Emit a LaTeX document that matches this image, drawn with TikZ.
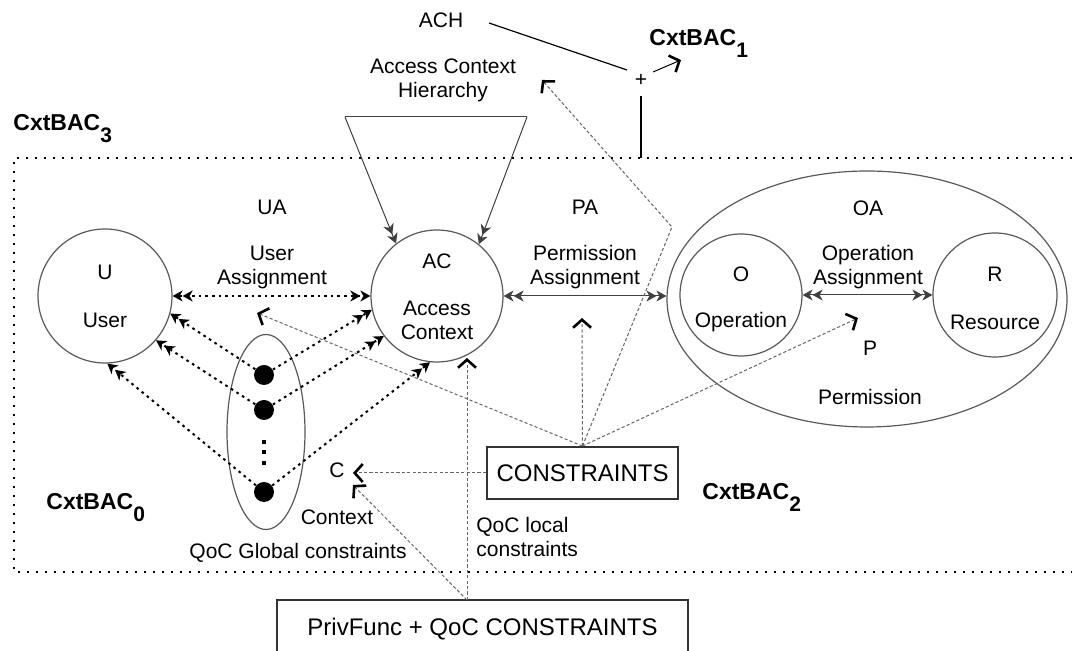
\documentclass[tikz,border=0pt]{standalone}
\usepackage{fontspec}
\setmainfont{Liberation Sans}
\usetikzlibrary{arrows.meta,shapes.geometric}
\newcommand{\cxtlabel}[1]{\fontsize{11.5}{13}\selectfont\bfseries CxtBAC\raisebox{-6pt}{\fontsize{10.5}{12}\selectfont\bfseries #1}}
\begin{document}
\begin{tikzpicture}[x=0.5pt,y=-0.5pt,
  lbl/.style={font=\fontsize{10.5}{12}\selectfont, inner sep=0pt, align=center},
  circ/.style={circle, draw=black!65, line width=0.6pt, inner sep=0pt},
  dbl/.style={-{Stealth[length=5pt,width=5.5pt,inset=1.5pt]Stealth[length=5pt,width=5.5pt,inset=1.5pt]}},
  dblboth/.style={{Stealth[length=5pt,width=5.5pt,inset=1.5pt]Stealth[length=5pt,width=5.5pt,inset=1.5pt]}-{Stealth[length=5pt,width=5.5pt,inset=1.5pt]Stealth[length=5pt,width=5.5pt,inset=1.5pt]}},
  dotline/.style={line width=1pt, dash pattern=on 1.3pt off 2pt},
  solidln/.style={draw=black!75, line width=0.5pt},
  gdash/.style={draw=black!60, line width=0.5pt, dash pattern=on 1.6pt off 1.1pt},
  openhead/.style={-{Straight Barb[length=4pt,width=9pt,line width=1.3pt,color=black]}},
  boxframe/.style={line width=1pt, dash pattern=on 0.9pt off 3.6pt},
  cbox/.style={draw=black!80, line width=1pt, font=\fontsize{12}{14}\selectfont, inner sep=0pt},
  blackdot/.style={circle, fill=black, minimum size=10pt, inner sep=0pt},
  sq/.style={fill=black, minimum size=2.2pt, inner sep=0pt},
]
\useasboundingbox (0,0) rectangle (1072,651);

% outer dotted frame
\draw[boxframe] (1072,158) -- (14,158) -- (14,572) -- (1072,572);

% top part
\node[lbl] (ach) at (441,20) {ACH};
\coordinate (achL) at (489,23);
\coordinate (achR) at (627,70);
\draw[line width=0.6pt] (achL) -- (achR);
\node[lbl] (plus) at (641,80) {+};
\coordinate (c1s) at (653,72);
\coordinate (c1e) at (681,60);
\draw[line width=0.5pt, -{Straight Barb[length=4pt,width=9pt,line width=1.3pt]}] (c1s) -- (c1e);
\node[anchor=base west, inner sep=0pt] (cxt1) at (649,46) {\cxtlabel{1}};
\coordinate (vtop) at (641,96);
\coordinate (vbot) at (641,158);
\draw[line width=0.6pt] (vtop) -- (vbot);
\node[lbl] (achlbl) at (443,80) {Access Context\\Hierarchy};
\node[anchor=base west, inner sep=0pt] (cxt3) at (13,131) {\cxtlabel{3}};

% main circles
\node[circ, minimum size=67pt] (U) at (105,296) {};
\node[lbl] (utxt) at (105,272) {U};
\node[lbl] (usertxt) at (105,320) {User};
\node[circ, minimum size=66pt] (AC) at (437,296) {};
\node[lbl] (actxt) at (437,261) {AC};
\node[lbl] (acctxt) at (437,320) {Access\\Context};

\node[ellipse, draw=black!65, line width=0.6pt, inner sep=0pt, minimum width=200pt, minimum height=128pt] (oaell) at (867,299) {};
\node[circ, minimum size=61pt] (O) at (741,295) {};
\node[lbl] (otxt) at (741,274) {O};
\node[lbl] (optxt) at (741,322) {Operation};
\node[circ, minimum size=62pt] (R) at (995,295) {};
\node[lbl] (rtxt) at (995,274) {R};
\node[lbl] (restxt) at (995,322) {Resource};

% labels
\node[lbl] (ua) at (272,207) {UA};
\node[lbl] (ualbl) at (272,267) {User\\Assignment};
\node[lbl] (pa) at (585,207) {PA};
\node[lbl] (palbl) at (585,267) {Permission\\Assignment};
\node[lbl] (oa) at (868,208) {OA};
\node[lbl] (oalbl) at (868,267) {Operation\\Assignment};
\node[lbl] (plbl) at (870,348) {P};
\node[lbl] (permlbl) at (870,397) {Permission};

% trapezoid (hierarchy)
\coordinate (tl) at (345,117);
\coordinate (tr) at (527,117);
\draw[solidln] (tl) -- (tr);
\draw[solidln, dbl] (tl) -- (AC.128);
\draw[solidln, dbl] (tr) -- (AC.51);

% solid assignment arrows
\draw[solidln, dblboth] (AC.east) -- (AC.east -| oaell.west);
\draw[solidln, dblboth] (O.east) -- (R.west);

% QoC global ellipse and dots
\node[ellipse, draw=black!65, line width=0.6pt, inner sep=0pt, minimum width=39pt, minimum height=97.5pt] (qell) at (266,432) {};
\node[blackdot] (d1) at (264,375) {};
\node[blackdot] (d2) at (264,410) {};
\node[blackdot] (d3) at (264,492) {};
\node[sq] (v1) at (264,442) {};
\node[sq] (v2) at (264,452) {};
\node[sq] (v3) at (264,463) {};

% dotted arrows
\draw[dotline, dblboth] (U.east) -- (AC.west);
\draw[dotline, dbl] (d1) -- (U.-15);
\draw[dotline, dbl] (d1) -- (AC.192);
\draw[dotline, dbl] (d2) -- (U.-41);
\draw[dotline, dbl] (d2) -- (AC.217);
\draw[dotline, dbl] (d3) -- (U.-88);
\draw[dotline, dbl] (d3) -- (AC.264);

% lower labels
\node[lbl] (clbl) at (337,470) {C};
\node[lbl] (ctxlbl) at (337,517) {Context};
\node[lbl] (qocg) at (298,553) {QoC Global constraints};
\node[lbl, align=left, anchor=west] (qocl) at (476,537) {QoC local\\constraints};
\node[anchor=base west, inner sep=0pt] (cxt0) at (46,510) {\cxtlabel{0}};
\node[anchor=base west, inner sep=0pt] (cxt2) at (702,500) {\cxtlabel{2}};

% constraint boxes
\node[cbox, minimum width=95.5pt, minimum height=26pt] (cons) at (582.5,473) {CONSTRAINTS};
\node[cbox, line width=0.8pt, minimum width=205.5pt, minimum height=30pt] (priv) at (482.5,630) {\raisebox{3pt}{PrivFunc + QoC CONSTRAINTS}};

% dashed constraint links
\coordinate (uatip) at (257,313);
\coordinate (patip) at (582,318);
\coordinate (bend) at (672,227);
\coordinate (achtip) at (542,80);
\coordinate (ptip) at (858,318);
\coordinate (ctip1) at (353,473);
\coordinate (ctip2) at (353,485);
\coordinate (actip) at (467,358);
\coordinate (privtop) at (467,600);
\draw[gdash, openhead] (cons.north) -- (uatip);
\draw[gdash, openhead] (cons.north) -- (patip);
\draw[gdash, openhead] (cons.north) -- (bend) -- (achtip);
\draw[gdash, openhead] (cons.north) -- (ptip);
\draw[gdash, openhead] (cons.west) -- (ctip1);
\draw[gdash, openhead] (privtop) -- (actip);
\draw[gdash, openhead] (privtop) -- (ctip2);
\end{tikzpicture}
\end{document}
